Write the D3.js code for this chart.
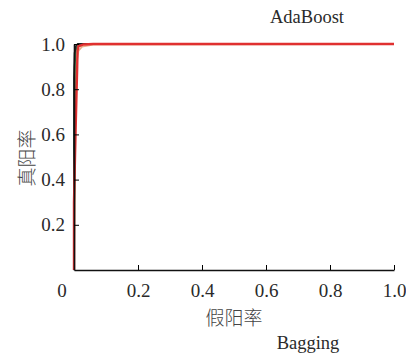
<!DOCTYPE html>
<html>
<head>
<meta charset="utf-8">
<script src="https://cdn.jsdelivr.net/npm/d3@7"></script>
<style>
  body { margin: 0; background: #fff; }
  svg { display: block; }
  .num { font-family: "Liberation Serif", "DejaVu Serif", serif; fill: #2a2a2a; }
  .cjk { font-family: "Noto Sans CJK SC", sans-serif; font-weight: 300; fill: #444; }
</style>
</head>
<body>
<svg width="406" height="354"></svg>
<script>
// ROC curves, [fpr, tpr]
const curveBlack = [[0, 0], [0, 0.85], [0.002, 0.96], [0.006, 0.99], [0.012, 1], [1, 1]];
const curveGreen = [[0, 0], [0.002, 0.9], [0.006, 0.975], [0.014, 0.992], [0.03, 1], [1, 1]];
const curveOrange = [[0, 0], [0.006, 0.9], [0.014, 0.97], [0.025, 0.988], [0.06, 0.997], [1, 1]];
const curveRed = [[0, 0], [0, 0.3], [0.005, 0.62], [0.01, 0.9], [0.011, 0.97], [0.014, 0.99], [0.03, 0.998], [0.06, 1], [1, 1]];
const seriesColors = ["#e8b08a", "#3a9a4a", "#222", "#e03030"];
const xTicks = [0.2, 0.4, 0.6, 0.8, 1.0];
const yTicks = [0.2, 0.4, 0.6, 0.8, 1.0];

const svg = d3.select("svg");
const x = d3.scaleLinear().domain([0, 1]).range([74, 394]);
const y = d3.scaleLinear().domain([0, 1]).range([270, 44]);

// curves
const line = d3.line().x(d => x(d[0])).y(d => y(d[1]));
const curves = [curveOrange, curveGreen, curveBlack, curveRed];
svg.selectAll(".roc")
  .data(curves)
  .enter().append("path")
    .attr("class", "roc")
    .attr("d", line)
    .attr("fill", "none")
    .attr("stroke", (d, i) => seriesColors[i])
    .attr("stroke-width", (d, i) => i === 3 ? 2.4 : 1.8);

// x axis
const gx = svg.append("g")
  .attr("transform", "translate(0," + y(0) + ")")
  .call(d3.axisBottom(x).tickValues(xTicks).tickSizeInner(-5).tickSizeOuter(0).tickFormat(d3.format(".1f")).tickPadding(14));
gx.select(".domain").attr("stroke", "#111").attr("stroke-width", 1.6);
gx.selectAll("text").attr("class", "num").attr("font-size", 19).attr("fill", "#2a2a2a");

// y axis
const gy = svg.append("g")
  .attr("transform", "translate(" + x(0) + ",0)")
  .call(d3.axisLeft(y).tickValues(yTicks).tickSizeInner(-5).tickSizeOuter(0).tickFormat(d3.format(".1f")).tickPadding(9));
gy.select(".domain").attr("stroke", "#111").attr("stroke-width", 1.6);
gy.selectAll("text").attr("class", "num").attr("font-size", 19).attr("fill", "#2a2a2a");

// shared origin label
svg.append("text").attr("class", "num")
  .attr("x", 62).attr("y", 297)
  .attr("text-anchor", "middle").attr("font-size", 19)
  .text("0");

// titles
svg.append("text").attr("class", "num")
  .attr("x", 307).attr("y", 23)
  .attr("text-anchor", "middle").attr("font-size", 18.5)
  .text("AdaBoost");
svg.append("text").attr("class", "num")
  .attr("x", 308).attr("y", 349)
  .attr("text-anchor", "middle").attr("font-size", 18.5)
  .text("Bagging");

// axis labels
svg.append("text").attr("class", "cjk")
  .attr("x", 234).attr("y", 325)
  .attr("text-anchor", "middle").attr("font-size", 19)
  .text("假阳率");
svg.append("text").attr("class", "cjk")
  .attr("transform", "translate(34,158) rotate(-90)")
  .attr("text-anchor", "middle").attr("font-size", 19)
  .text("真阳率");
</script>
</body>
</html>
